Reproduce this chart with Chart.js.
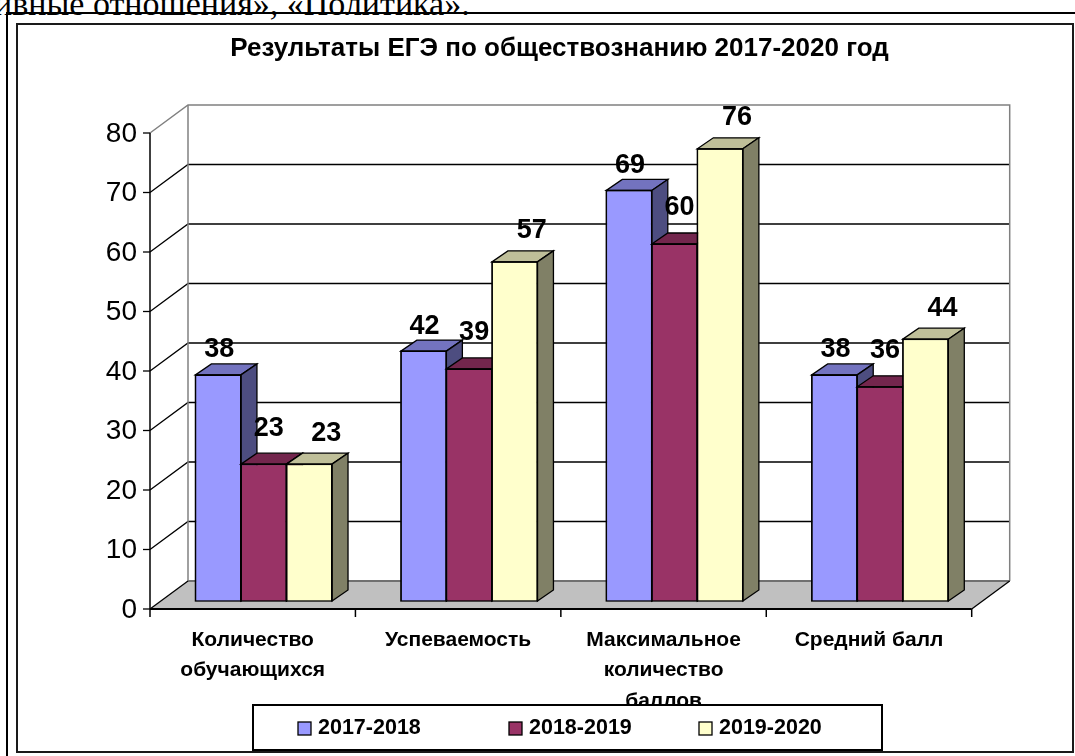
<!DOCTYPE html>
<html><head><meta charset="utf-8">
<script src="https://cdn.jsdelivr.net/npm/chart.js@4.4.1/dist/chart.umd.min.js"></script>
<style>
html,body{margin:0;padding:0;background:#fff;width:1075px;height:756px;overflow:hidden;position:relative}
#top{position:absolute;left:-6px;top:-16px;font-family:"Liberation Serif","Times New Roman",serif;font-size:34px;white-space:nowrap;color:#000;line-height:40px}
#hl{position:absolute;left:7px;top:12px;width:1068px;height:2px;background:#000}
#vl{position:absolute;left:6px;top:12px;width:2px;height:744px;background:#000}
#box{position:absolute;left:16px;top:23px;width:1054px;height:726px;border:2px solid #1a1a1a;background:#fff}
canvas{position:absolute;left:0;top:0}
</style></head><body>
<div id="top">ивные отношения», «Политика».</div>
<div id="hl"></div><div id="vl"></div><div id="box"></div>
<canvas id="c" width="1075" height="756"></canvas>
<script>
// ---- data ----
const chartTitle = 'Результаты ЕГЭ по обществознанию 2017-2020 год';
const categories = [['Количество', 'обучающихся'], ['Успеваемость'], ['Максимальное', 'количество', 'баллов'], ['Средний балл']];
const seriesNames = ['2017-2018', '2018-2019', '2019-2020'];
const values2017 = [38, 42, 69, 38];
const values2018 = [23, 39, 60, 36];
const values2019 = [23, 57, 76, 44];
const yMin = 0, yMax = 80, yStep = 10;

// ---- styles ----
const frontColors = ['#9999FF', '#993366', '#FFFFCC'];
const topColors = ['#7373BF', '#73264D', '#BFBF99'];
const sideColors = ['#4D4D80', '#4D1A33', '#808066'];
const FONT = '"Liberation Sans", Arial, sans-serif';
const G = {fx: -11, fy: 8, bx: 27, by: -20, dx: 16, dy: -11};
const labelShift = [{dx: 1, dy: -25}, {dx: 5, dy: -36}, {dx: 17, dy: -31}];

function poly(ctx, pts, fill, stroke, lw) {
  ctx.beginPath();
  ctx.moveTo(pts[0][0], pts[0][1]);
  for (let k = 1; k < pts.length; k++) ctx.lineTo(pts[k][0], pts[k][1]);
  ctx.closePath();
  if (fill) { ctx.fillStyle = fill; ctx.fill(); }
  if (stroke) { ctx.strokeStyle = stroke; ctx.lineWidth = lw || 1; ctx.stroke(); }
}
function line(ctx, pts, color, lw) {
  ctx.beginPath();
  ctx.moveTo(pts[0][0], pts[0][1]);
  for (let k = 1; k < pts.length; k++) ctx.lineTo(pts[k][0], pts[k][1]);
  ctx.strokeStyle = color; ctx.lineWidth = lw || 1; ctx.stroke();
}

const walls = {
  id: 'walls',
  beforeDatasetsDraw(chart) {
    const {ctx, chartArea: {left: L, right: R}, scales: {x: xs, y: ys}} = chart;
    const y0 = ys.getPixelForValue(yMin), yT = ys.getPixelForValue(yMax);
    const F = (px, py) => [px + G.fx, py + G.fy];
    const B = (px, py) => [px + G.bx, py + G.by];
    ctx.save();
    ctx.lineCap = 'butt';
    poly(ctx, [F(L, yT), B(L, yT), B(L, y0), F(L, y0)], '#ffffff');
    poly(ctx, [B(L, yT), B(R, yT), B(R, y0), B(L, y0)], '#ffffff');
    poly(ctx, [F(L, y0), F(R, y0), B(R, y0), B(L, y0)], '#C0C0C0');
    for (let v = yMin + yStep; v < yMax; v += yStep) {
      const py = ys.getPixelForValue(v);
      line(ctx, [F(L, py), B(L, py), B(R, py)], '#000000', 1.3);
    }
    line(ctx, [F(L, yT), B(L, yT), B(R, yT), B(R, y0)], '#808080', 1.5);
    line(ctx, [B(L, yT), B(L, y0)], '#808080', 1.5);
    line(ctx, [B(L, y0), B(R, y0)], '#707070', 2);
    line(ctx, [F(L, y0), B(L, y0)], '#000000', 1.3);
    line(ctx, [F(R, y0), B(R, y0)], '#000000', 1.3);
    line(ctx, [F(L, yT), F(L, y0)], '#000000', 1.5);
    for (let v = yMin; v <= yMax; v += yStep) {
      const p = F(L, ys.getPixelForValue(v));
      line(ctx, [[p[0] - 7, p[1]], p], '#000000', 1.3);
    }
    line(ctx, [F(L, y0), F(R, y0)], '#000000', 2);
    const n = categories.length;
    for (let i = 0; i <= n; i++) {
      let bx;
      if (i === 0) bx = L; else if (i === n) bx = R;
      else bx = (xs.getPixelForValue(i - 1) + xs.getPixelForValue(i)) / 2;
      const p = F(bx, y0);
      line(ctx, [p, [p[0], p[1] + 8]], '#000000', 1.5);
    }
    ctx.restore();
  },
  afterDatasetsDraw(chart) {
    const ctx = chart.ctx;
    ctx.save();
    chart.data.datasets.forEach((ds, i) => {
      const meta = chart.getDatasetMeta(i);
      meta.data.forEach((el) => {
        el.draw(ctx);
        const {x: cx, y: top, base, width} = el.getProps(['x', 'y', 'base', 'width'], true);
        const x0 = cx - width / 2, x1 = cx + width / 2;
        ctx.lineJoin = 'miter';
        poly(ctx, [[x0, top], [x1, top], [x1 + G.dx, top + G.dy], [x0 + G.dx, top + G.dy]], topColors[i], '#000', 1.3);
        poly(ctx, [[x1, top], [x1 + G.dx, top + G.dy], [x1 + G.dx, base + G.dy], [x1, base]], sideColors[i], '#000', 1.3);
        ctx.strokeStyle = '#000'; ctx.lineWidth = 1.3;
        ctx.strokeRect(x0, top, width, base - top);
      });
    });
    ctx.font = 'bold 27px ' + FONT;
    ctx.fillStyle = '#000';
    ctx.textAlign = 'center';
    ctx.textBaseline = 'middle';
    chart.data.datasets.forEach((ds, i) => {
      chart.getDatasetMeta(i).data.forEach((el, j) => {
        const {x: cx, y: top} = el.getProps(['x', 'y'], true);
        ctx.fillText(String(ds.data[j]), cx + labelShift[i].dx, top + labelShift[i].dy);
      });
    });
    ctx.restore();
  },
  afterDraw(chart) {
    const ctx = chart.ctx;
    ctx.save();
    const bx = 253, by = 705, bw = 629, bh = 45;
    ctx.fillStyle = '#fff';
    ctx.fillRect(bx, by, bw, bh);
    ctx.strokeStyle = '#000'; ctx.lineWidth = 2;
    ctx.strokeRect(bx, by, bw, bh);
    const itemX = [298, 509, 699];
    ctx.font = 'bold 21.5px ' + FONT;
    ctx.textBaseline = 'middle';
    ctx.textAlign = 'left';
    chart.data.datasets.forEach((ds, i) => {
      const x = itemX[i], yc = by + bh / 2 + 1;
      ctx.fillStyle = ds.backgroundColor;
      ctx.fillRect(x, yc - 6.5, 13, 13);
      ctx.lineWidth = 1.3; ctx.strokeStyle = '#000';
      ctx.strokeRect(x, yc - 6.5, 13, 13);
      ctx.fillStyle = '#000';
      ctx.fillText(ds.label, x + 20, yc);
    });
    ctx.restore();
  }
};

const seriesValues = [values2017, values2018, values2019];
new Chart(document.getElementById('c'), {
  type: 'bar',
  data: {
    labels: categories,
    datasets: seriesNames.map((name, i) => ({
      label: name,
      data: seriesValues[i],
      backgroundColor: frontColors[i],
      borderColor: '#000',
      borderWidth: 1,
      categoryPercentage: 0.665,
      barPercentage: 1.0
    }))
  },
  options: {
    responsive: false,
    animation: false,
    devicePixelRatio: 1,
    layout: {padding: {left: 100, right: 56, top: 0, bottom: 0}},
    plugins: {
      legend: {display: false},
      tooltip: {enabled: false},
      title: {
        display: true,
        text: chartTitle,
        color: '#000',
        font: {family: FONT, size: 26, weight: 'bold', lineHeight: 1.2},
        padding: {top: 33.4, bottom: 60.4}
      }
    },
    scales: {
      x: {
        grid: {display: false, drawTicks: false},
        border: {display: false},
        ticks: {
          color: '#000',
          font: {family: FONT, size: 21, weight: 'bold', lineHeight: 1.45},
          padding: 24,
          labelOffset: G.fx,
          maxRotation: 0,
          autoSkip: false
        },
        afterFit(s) { s.height = 155; }
      },
      y: {
        min: yMin, max: yMax,
        grid: {display: false, drawTicks: false},
        border: {display: false},
        ticks: {
          stepSize: yStep,
          color: '#000',
          font: {family: FONT, size: 28},
          padding: 24,
          labelOffset: G.fy + 1
        },
        afterFit(s) { s.width = 61; }
      },
      yRight: {
        position: 'right',
        grid: {display: false, drawTicks: false},
        border: {display: false},
        ticks: {display: false},
        afterFit(s) { s.width = 36.3; }
      }
    }
  },
  plugins: [walls]
});
</script>
</body></html>
